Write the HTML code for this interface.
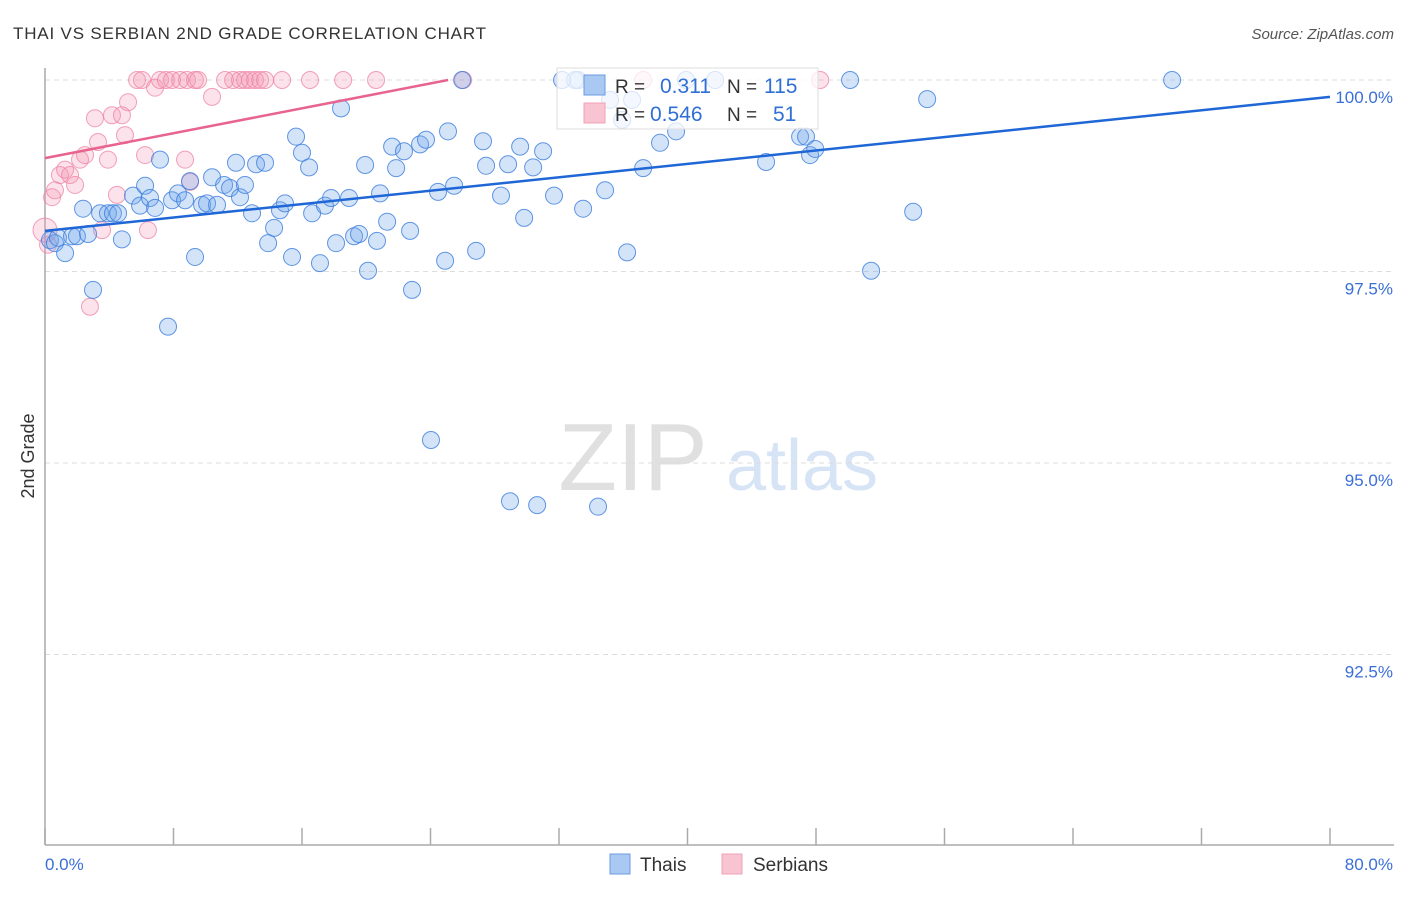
<!DOCTYPE html>
<html><head><meta charset="utf-8">
<style>
body{margin:0;background:#fff;font-family:"Liberation Sans",sans-serif;}
svg text{font-family:"Liberation Sans",sans-serif;}
</style></head>
<body>
<svg id="chart" width="1406" height="892" viewBox="0 0 1406 892" xmlns="http://www.w3.org/2000/svg">
<text x="13" y="39" font-size="17" fill="#333" textLength="473" lengthAdjust="spacing">THAI VS SERBIAN 2ND GRADE CORRELATION CHART</text>
<text x="1394" y="39" font-size="15" fill="#555" text-anchor="end" font-style="italic">Source: ZipAtlas.com</text>
<g>
<text x="633" y="490" font-size="96" fill="#e0e0e0" text-anchor="middle" font-family="Liberation Serif, serif">ZIP</text>
<text x="802" y="490" font-size="72" fill="#d6e4f6" text-anchor="middle">atlas</text>
</g>
<g id="grid"></g>
<g id="axes"></g>
<g id="pinkpts"></g>
<g id="bluepts"></g>
<g id="lines"></g>
<g>
<rect x="557" y="68" width="261" height="61" fill="#fff" fill-opacity="0.75" stroke="#ddd"/>
<rect x="584" y="75" width="21" height="20" fill="#a9c8f2" stroke="#6a9be0"/>
<rect x="584" y="103" width="21" height="20" fill="#f8c4d2" stroke="#f0a0b8"/>
<text x="615" y="93" font-size="19" fill="#333">R =</text>
<text x="660" y="93" font-size="21" fill="#2f6fd6">0.311</text>
<text x="727" y="93" font-size="19" fill="#333">N =</text>
<text x="764" y="93" font-size="21" fill="#2f6fd6">115</text>
<text x="615" y="121" font-size="19" fill="#333">R =</text>
<text x="650" y="121" font-size="21" fill="#2f6fd6">0.546</text>
<text x="727" y="121" font-size="19" fill="#333">N =</text>
<text x="773" y="121" font-size="21" fill="#2f6fd6">51</text>
</g>
<text transform="translate(34,456) rotate(-90)" font-size="18" fill="#333" text-anchor="middle">2nd Grade</text>
<g>
<rect x="610" y="854" width="20" height="20" fill="#a9c8f2" stroke="#6a9be0"/>
<text x="640" y="871" font-size="19" fill="#333">Thais</text>
<rect x="722" y="854" width="20" height="20" fill="#f8c4d2" stroke="#f0a0b8"/>
<text x="753" y="871" font-size="19" fill="#333">Serbians</text>
</g>
</svg>
<script>
const thaiX=[0.31,0.62,0.81,1.25,1.68,1.99,2.37,2.68,2.99,3.43,3.92,4.23,4.55,4.79,5.48,5.92,6.23,6.54,6.85,7.16,7.66,7.91,8.28,8.72,9.03,9.34,9.78,10.09,10.40,10.71,11.15,11.52,11.89,12.14,12.45,12.89,13.14,13.70,13.89,14.26,14.63,14.94,15.38,15.63,16.00,16.44,16.63,17.12,17.43,17.81,18.12,18.43,18.93,19.24,19.55,19.93,20.11,20.67,20.86,21.30,21.61,21.86,22.35,22.73,22.85,23.35,23.72,24.03,24.47,24.91,25.09,25.47,25.97,26.84,27.27,27.46,28.39,28.83,28.95,29.58,29.83,30.39,30.64,31.01,31.69,32.19,33.19,33.50,34.43,34.87,35.18,36.24,36.55,37.24,38.29,39.29,39.91,41.72,44.89,47.01,47.38,47.63,47.95,50.12,51.43,54.05,54.92,70.17,33.0,35.93];
const thaiY=[97.91,97.87,97.94,97.74,97.96,97.96,98.32,97.99,97.26,98.26,98.26,98.26,98.26,97.92,98.49,98.36,98.62,98.46,98.33,98.96,96.78,98.43,98.52,98.43,98.68,97.69,98.37,98.39,98.73,98.37,98.63,98.59,98.92,98.47,98.63,98.26,98.90,98.92,97.87,98.07,98.30,98.39,97.69,99.26,99.05,98.86,98.26,97.61,98.36,98.46,97.87,99.63,98.46,97.96,97.99,98.89,97.51,97.90,98.52,98.15,99.13,98.85,99.07,98.03,97.26,99.16,99.22,95.30,98.54,97.64,99.33,98.62,100,97.77,99.20,98.88,98.49,98.90,94.50,99.13,98.20,98.86,94.45,99.07,98.49,100,100,98.32,94.43,98.56,99.74,97.75,99.74,98.85,99.18,99.33,100,100,98.93,99.26,99.26,99.02,99.10,100,97.51,98.28,99.75,100,100,99.48];
const serbX=[0,0.19,0.44,0.62,0.93,1.25,1.56,1.87,2.18,2.49,2.80,3.11,3.30,3.55,3.92,4.17,4.48,4.79,4.98,5.17,5.73,6.04,6.23,6.41,6.85,7.16,7.53,7.91,8.41,8.72,8.84,9.34,9.53,10.40,11.21,11.71,12.14,12.45,12.76,13.08,13.39,13.70,14.76,16.50,18.56,20.61,26.03,37.24,48.26,9.03];
const serbY=[98.04,97.85,98.47,98.56,98.76,98.83,98.76,98.63,98.96,99.02,97.04,99.50,99.19,98.04,98.96,99.54,98.50,99.54,99.28,99.71,100,100,99.02,98.04,99.90,100,100,100,100,98.96,100,100,100,99.78,100,100,100,100,100,100,100,100,100,100,100,100,100,100,100,98.67];
const thaiTrend=[98.03,99.78];
const serbTrend=[98.98,100];
const serbTrendEnd=25.1;
const yTicks=[100,97.5,95,92.5];
const yTickLabels=["100.0%","97.5%","95.0%","92.5%"];
const xTicks=[0,8,16,24,32,40,48,56,64,72,80];
const xLabels=[{v:0,t:"0.0%"},{v:80,t:"80.0%"}];

const NS="http://www.w3.org/2000/svg";
const X0=45,X1=1330,Y100=80,PX25=191.5;
const sx=v=>X0+(v/80)*(X1-X0);
const sy=v=>Y100+(100-v)/2.5*PX25;
function mk(tag,attrs,parent){const e=document.createElementNS(NS,tag);for(const k in attrs)e.setAttribute(k,attrs[k]);parent.appendChild(e);return e;}
const grid=document.getElementById('grid'),axes=document.getElementById('axes');
yTicks.forEach((t,i)=>{
  const l=mk('line',{x1:X0,x2:1394,y1:sy(t),y2:sy(t),stroke:'#ddd','stroke-dasharray':'5,4'},grid);
  
  
  const tx=mk('text',{x:1393,y:sy(t)+23,'font-size':17,fill:'#3b6fd8','text-anchor':'end'},axes);
  tx.textContent=yTickLabels[i];
  
  
});
const al=mk('line',{x1:X0,x2:X0,y1:68,y2:845,stroke:'#aaa','stroke-width':1.5},axes);


const bl=mk('line',{x1:X0,x2:1394,y1:845,y2:845,stroke:'#aaa','stroke-width':1.5},axes);


xTicks.forEach(t=>{
  const l=mk('line',{x1:sx(t),x2:sx(t),y1:828,y2:845,stroke:'#aaa','stroke-width':1.5},axes);
  
  
});
xLabels.forEach(o=>{
  const tx=mk('text',{x:o.v===0?45:1393,y:870,'font-size':17,fill:'#3b6fd8','text-anchor':o.v===0?'start':'end'},axes);
  tx.textContent=o.t;
  
  
});
const pg=document.getElementById('pinkpts');
serbX.forEach((x,i)=>{
  const c=mk('circle',{cx:sx(x),cy:sy(serbY[i]),r:i===0?12:8.5,fill:'rgba(245,150,180,0.28)',stroke:'rgba(238,130,165,0.75)','stroke-width':1},pg);
  
  
});
const bg=document.getElementById('bluepts');
thaiX.forEach((x,i)=>{
  const c=mk('circle',{cx:sx(x),cy:sy(thaiY[i]),r:8.5,fill:'rgba(110,165,235,0.3)',stroke:'rgba(60,125,220,0.8)','stroke-width':1},bg);
  
  
});
const lg=document.getElementById('lines');
const tb=mk('line',{x1:sx(0),y1:sy(thaiTrend[0]),x2:sx(80),y2:sy(thaiTrend[1]),stroke:'#1f66d6','stroke-width':2.5},lg);


const tp=mk('line',{x1:sx(0),y1:sy(serbTrend[0]),x2:sx(serbTrendEnd),y2:sy(serbTrend[1]),stroke:'#e8638e','stroke-width':2.5},lg);


</script>
</body></html>
